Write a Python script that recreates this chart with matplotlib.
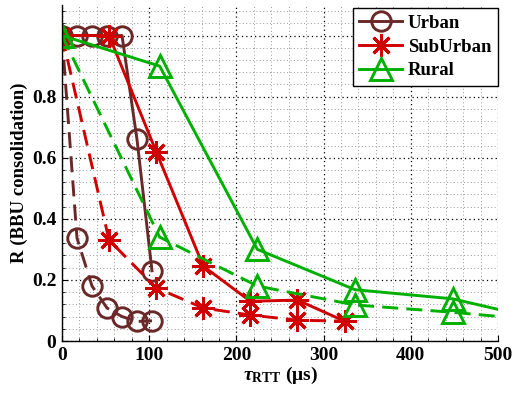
import matplotlib
matplotlib.use("Agg")
import matplotlib.pyplot as plt
from matplotlib.ticker import MultipleLocator, FixedLocator

# ---- data ----
urban_x = [0, 17.2, 34.4, 51.6, 68.8, 86.0, 103.2]
urban_solid = [1.0, 1.0, 1.0, 1.0, 1.0, 0.66, 0.23]
urban_dashed = [1.0, 0.337, 0.18, 0.108, 0.08, 0.064, 0.066]

sub_x = [0, 54, 108, 162, 216, 270, 324]
sub_solid = [1.0, 1.0, 0.62, 0.245, 0.13, 0.134, 0.065]
sub_dashed = [1.0, 0.33, 0.174, 0.108, 0.085, 0.068, 0.065]

rural_x = [0, 112, 224, 336, 448, 560]
rural_solid = [1.0, 0.9, 0.3, 0.168, 0.138, 0.064]
rural_dashed = [1.0, 0.34, 0.18, 0.118, 0.094, 0.065]

series_names = ["Urban", "SubUrban", "Rural"]
xticks = [0, 100, 200, 300, 400, 500]
yticks = [0, 0.2, 0.4, 0.6, 0.8, 1.0]
ytick_labels = ["0", "0.2", "0.4", "0.6", "0.8", ""]

# ---- style ----
plt.rcParams['font.family'] = ['Liberation Serif', 'DejaVu Serif']
plt.rcParams['font.weight'] = 'bold'
plt.rcParams['mathtext.fontset'] = 'custom'
plt.rcParams['mathtext.rm'] = 'Liberation Serif:bold'
plt.rcParams['mathtext.it'] = 'Liberation Serif:italic:bold'
plt.rcParams['mathtext.bf'] = 'Liberation Serif:bold'

c_urban = '#6a2828'
c_sub = '#d00000'
c_rural = '#00b000'

fig = plt.figure(figsize=(5.14, 4.0), dpi=100)
ax = fig.add_axes([62/514, 59/400, 436/514, 336/400])

lw = 2.1
mew = 2.1
dash = (5.5, 2.8)

ax.plot(urban_x, urban_solid, '-', color=c_urban, lw=lw, marker='o', ms=14,
        mfc='none', mew=mew, label=series_names[0])
ax.plot(urban_x, urban_dashed, '--', color=c_urban, lw=lw, marker='o', ms=14,
        mfc='none', mew=mew, dashes=dash)
ax.plot(sub_x, sub_solid, '-', color=c_sub, lw=lw, marker=(8, 2, 0), ms=16,
        mew=mew, label=series_names[1])
ax.plot(sub_x, sub_dashed, '--', color=c_sub, lw=lw, marker=(8, 2, 0), ms=16,
        mew=mew, dashes=dash)
ax.plot(rural_x, rural_solid, '-', color=c_rural, lw=lw, marker='^', ms=16,
        mfc='none', mew=mew, label=series_names[2])
ax.plot(rural_x, rural_dashed, '--', color=c_rural, lw=lw, marker='^', ms=16,
        mfc='none', mew=mew, dashes=dash)

ax.set_xlim(0, 500)
ax.set_ylim(0, 1.1)
ax.xaxis.set_major_locator(FixedLocator(xticks))
ax.yaxis.set_major_locator(FixedLocator(yticks))
ax.set_yticklabels(ytick_labels)
ax.xaxis.set_minor_locator(MultipleLocator(20))
ax.yaxis.set_minor_locator(MultipleLocator(0.04))

ax.grid(which='major', linestyle=(0, (1, 2.5)), color='black', lw=0.9)
ax.grid(which='minor', linestyle=(0, (1, 2.5)), color='#999999', lw=0.7)
ax.set_axisbelow(True)

for s in ['top', 'right']:
    ax.spines[s].set_visible(False)
for s in ['left', 'bottom']:
    ax.spines[s].set_linewidth(1.0)

ax.tick_params(which='both', direction='in', top=False, right=False,
               labelsize=14, pad=4)
ax.tick_params(which='major', length=4)
ax.tick_params(which='minor', length=2)
for lab in ax.get_xticklabels() + ax.get_yticklabels():
    lab.set_fontweight('bold')

ax.set_ylabel('R (BBU consolidation)', fontsize=13.5, fontweight='bold', labelpad=3)
ax.set_xlabel(r'$\tau_{\mathrm{RTT}}$ (μs)', fontsize=14, fontweight='bold', labelpad=1)

leg = ax.legend(loc='upper right', bbox_to_anchor=(1.0, 0.99), fontsize=13.5,
                handlelength=2.3, handletextpad=0.3, borderpad=0.35,
                labelspacing=0.35, fancybox=False, framealpha=1,
                edgecolor='black', borderaxespad=0.0)
leg.get_frame().set_linewidth(1.0)
for t in leg.get_texts():
    t.set_fontweight('bold')

fig.savefig('out.png', dpi=100)
